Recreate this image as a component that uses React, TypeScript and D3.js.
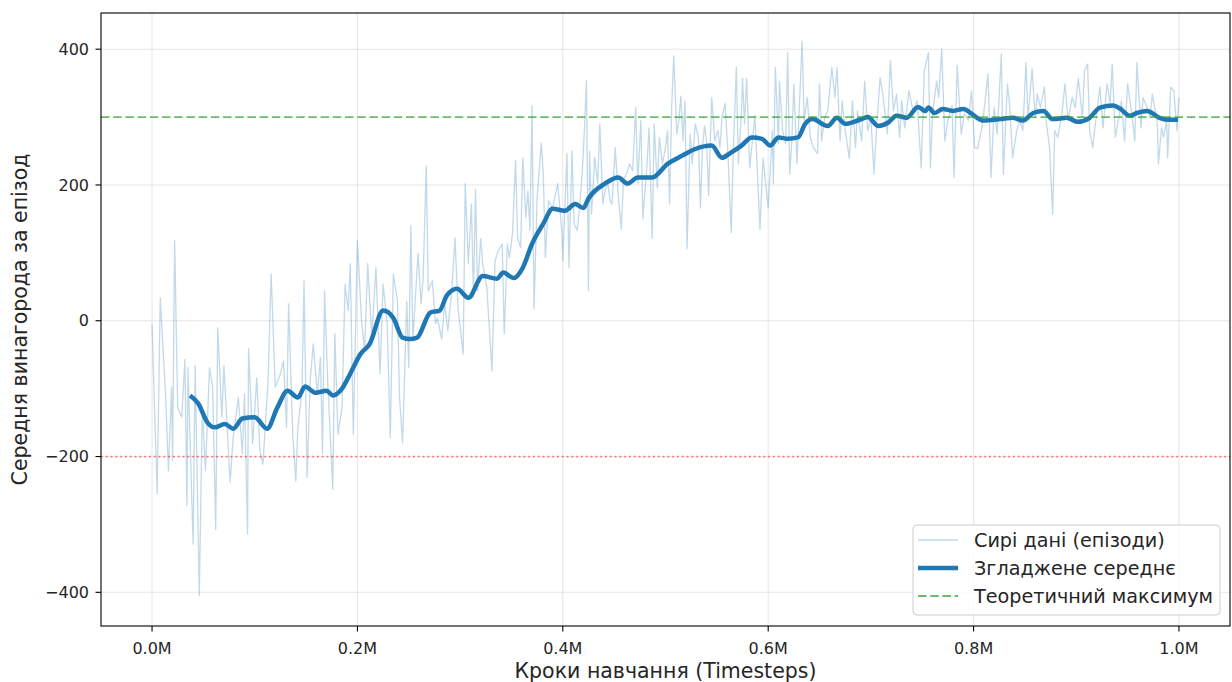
import * as d3 from 'd3';

// raw episodes: timestep (thousands) and reward
const rawSteps = [
  0, 5, 8, 13, 16, 19, 20, 22, 25, 29, 32, 34, 35, 40, 42, 46, 49, 52, 56, 59,
  62, 64, 68, 70, 76, 79, 84, 88, 90, 93, 94, 98, 102, 105, 108, 113, 116, 120, 125, 128,
  131, 133, 137, 140, 142, 146, 148, 151, 154, 157, 161, 164, 166, 168, 171, 176, 178, 181, 185, 188,
  191, 193, 196, 200, 204, 207, 210, 214, 218, 222, 225, 229, 232, 235, 239, 241, 244, 248, 250, 252,
  254, 259, 262, 264, 267, 269, 273, 276, 278, 282, 285, 288, 292, 295, 298, 303, 305, 308, 311, 313,
  315, 317, 320, 322, 326, 331, 334, 337, 341, 343, 346, 348, 351, 354, 356, 359, 361, 364, 366, 368,
  370, 372, 375, 379, 381, 383, 386, 390, 395, 399, 400, 404, 406, 409, 411, 414, 416, 419, 421, 423,
  425, 426, 428, 431, 434, 436, 439, 441, 444, 446, 448, 451, 454, 457, 459, 463, 465, 468, 471, 473,
  476, 478, 482, 484, 487, 489, 492, 494, 497, 500, 502, 504, 506, 508, 511, 513, 515, 517, 519, 521,
  524, 526, 529, 532, 534, 536, 538, 540, 542, 545, 548, 551, 553, 555, 558, 561, 564, 566, 569, 571,
  574, 575, 577, 579, 582, 587, 592, 595, 600, 604, 605, 607, 610, 611, 614, 617, 619, 621, 623, 625,
  628, 631, 633, 635, 638, 641, 644, 648, 650, 652, 655, 658, 662, 665, 667, 670, 672, 675, 679, 682,
  685, 687, 691, 694, 697, 700, 703, 706, 709, 712, 716, 719, 722, 725, 728, 730, 733, 737, 741, 745,
  749, 752, 756, 758, 760, 764, 766, 769, 772, 775, 779, 781, 784, 788, 791, 795, 798, 801, 804, 808,
  811, 814, 817, 820, 823, 827, 829, 833, 835, 838, 842, 845, 848, 851, 853, 857, 860, 862, 865, 869,
  871, 874, 877, 879, 882, 886, 889, 892, 896, 899, 902, 906, 908, 911, 913, 916, 919, 923, 926, 930,
  933, 935, 938, 941, 944, 947, 950, 954, 957, 959, 963, 965, 969, 972, 974, 979, 980, 983, 985, 988,
  989, 992, 995, 998, 1000,
];
const rawRewards = [
  -5, -255, 34, -103, -221, -98, -206, 118, -128, -142, -57, -272, -69, -329, -66, -405, -128, -221, -69, -98,
  -307, -10, -142, -66, -238, -172, -113, -196, -108, -314, -41, -181, -84, -191, -211, -88, 69, -98, -78, -59,
  -157, 25, -167, -236, -157, -103, 59, -231, -88, -34, -108, -54, -196, 44, -88, -248, -19, -167, -128, 54,
  15, 84, -167, 118, 0, -44, 84, -25, 78, -78, 54, -4, -172, 69, 29, -113, -180, 29, -69, 140,
  -29, 99, 25, 63, 228, 44, 59, -4, 4, -27, 25, -15, 47, 122, 19, -49, 202, 84, 172, 34,
  194, 44, 121, 84, 49, -74, 88, 103, 113, -19, 113, 93, 128, 236, 122, 108, 240, 152, 191, 133,
  317, 18, 181, 262, 216, 93, 177, 166, 202, 133, 88, 246, 78, 250, 143, 133, 162, 221, 280, 354,
  44, 250, 157, 241, 202, 290, 172, 191, 202, 177, 172, 255, 184, 135, 206, 221, 231, 221, 314, 202,
  295, 150, 231, 284, 121, 290, 196, 270, 231, 255, 280, 172, 314, 390, 275, 295, 331, 265, 324, 106,
  275, 231, 290, 270, 166, 255, 287, 265, 184, 329, 265, 280, 255, 299, 320, 240, 130, 250, 373, 231,
  309, 357, 290, 357, 225, 302, 135, 240, 166, 280, 202, 373, 261, 353, 280, 261, 395, 216, 265, 349,
  231, 339, 412, 295, 329, 270, 255, 246, 349, 265, 299, 309, 373, 329, 373, 265, 324, 280, 239, 324,
  255, 309, 265, 353, 280, 299, 216, 295, 358, 329, 275, 383, 309, 334, 270, 324, 284, 339, 309, 324,
  225, 368, 395, 225, 305, 353, 329, 400, 265, 295, 317, 211, 376, 275, 305, 295, 339, 255, 254, 284,
  320, 364, 211, 314, 275, 393, 216, 349, 320, 240, 280, 295, 280, 380, 299, 371, 299, 334, 314, 344,
  290, 255, 157, 280, 270, 305, 349, 295, 329, 314, 357, 299, 368, 378, 280, 255, 295, 344, 284, 349,
  320, 378, 270, 295, 324, 265, 349, 305, 265, 380, 284, 329, 314, 299, 334, 290, 231, 284, 270, 295,
  240, 344, 339, 280, 329,
];

// rolling mean
const smoothSteps = [
  37, 45, 54, 61, 71, 79, 88, 100, 112, 122, 132, 142, 149, 159, 170, 176, 185, 193, 203, 212,
  225, 235, 244, 251, 258, 271, 280, 287, 297, 308, 322, 336, 342, 352, 361, 370, 381, 390, 402, 412,
  420, 425, 441, 454, 463, 473, 487, 502, 516, 529, 545, 555, 563, 574, 584, 594, 602, 610, 619, 629,
  636, 643, 658, 667, 675, 691, 697, 707, 717, 725, 735, 746, 753, 756, 762, 770, 780, 790, 798, 809,
  826, 838, 848, 858, 868, 877, 891, 901, 913, 923, 936, 943, 952, 959, 969, 981, 991, 999,
];
const smoothRewards = [
  -110, -122, -150, -157, -152, -159, -144, -142, -159, -128, -103, -113, -97, -106, -103, -110, -100, -78, -49, -34,
  15, 4, -25, -27, -25, 12, 15, 37, 47, 34, 66, 62, 71, 63, 78, 113, 143, 165, 162, 172,
  166, 180, 202, 211, 202, 211, 211, 231, 243, 253, 258, 240, 247, 258, 270, 268, 258, 270, 268, 270,
  290, 297, 287, 299, 290, 297, 300, 287, 292, 302, 299, 315, 309, 314, 306, 312, 309, 312, 305, 295,
  297, 299, 295, 306, 309, 297, 299, 293, 299, 314, 317, 312, 302, 306, 309, 299, 296, 296,
];

const xTicks = [0, 200, 400, 600, 800, 1000];
const yTicks = [-400, -200, 0, 200, 400];
const maxReward = 300;
const minReward = -200;

const legendItems = ['Сирі дані (епізоди)', 'Згладжене середнє', 'Теоретичний максимум'];

const W = 1232;
const H = 682;
const FONT = '"DejaVu Sans", sans-serif';
const BLUE = '#1f77b4';

export default function App() {
  const left = 101, right = 1230, top = 13, bottom = 626;

  const x = d3.scaleLinear().domain([-49.7, 1049.7]).range([left, right]);
  const y = d3.scaleLinear().domain([-449.6, 453.3]).range([bottom, top]);

  const rawLine = d3.line<number>()
    .x((_, i) => x(rawSteps[i]))
    .y((d) => y(d));
  const smoothLine = d3.line<number>()
    .x((_, i) => x(smoothSteps[i]))
    .y((d) => y(d))
    .curve(d3.curveMonotoneX);

  const fmtX = (v: number) => `${(v / 1000).toFixed(1)}M`;
  const fmtY = (v: number) => (v < 0 ? `\u2212${Math.abs(v)}` : `${v}`);

  const lgX = 913, lgY = 525, lgW = 307, lgH = 90;

  return (
    <svg width={W} height={H} style={{ position: 'absolute', left: 0, top: 0, background: '#fff' }} fontFamily={FONT}>
      <rect x={0} y={0} width={W} height={H} fill="#fff" />

      {/* grid */}
      {xTicks.map((t) => (
        <line key={`gx${t}`} x1={x(t)} x2={x(t)} y1={top} y2={bottom} stroke="#b0b0b0" strokeOpacity={0.3} strokeWidth={1} />
      ))}
      {yTicks.map((t) => (
        <line key={`gy${t}`} x1={left} x2={right} y1={y(t)} y2={y(t)} stroke="#b0b0b0" strokeOpacity={0.3} strokeWidth={1} />
      ))}

      {/* data */}
      <path d={rawLine(rawRewards) ?? ''} fill="none" stroke={BLUE} strokeOpacity={0.28} strokeWidth={1.3} strokeLinejoin="round" />
      <path d={smoothLine(smoothRewards) ?? ''} fill="none" stroke={BLUE} strokeWidth={4.5} strokeLinejoin="round" strokeLinecap="butt" />

      <line x1={left} x2={right} y1={y(maxReward)} y2={y(maxReward)} stroke="#2ca02c" strokeOpacity={0.7} strokeWidth={1.8} strokeDasharray="8.5,3.7" />
      <line x1={left} x2={right} y1={y(minReward)} y2={y(minReward)} stroke="#ff0000" strokeOpacity={0.5} strokeWidth={1.8} strokeDasharray="1.8,3" />

      {/* frame */}
      <rect x={left} y={top} width={right - left} height={bottom - top} fill="none" stroke="#000" strokeWidth={1.1} />

      {/* x axis */}
      {xTicks.map((t) => (
        <g key={`tx${t}`}>
          <line x1={x(t)} x2={x(t)} y1={bottom} y2={bottom + 5.5} stroke="#000" strokeWidth={1.1} />
          <text x={x(t)} y={654} textAnchor="middle" fontSize={16} fill="#262626">{fmtX(t)}</text>
        </g>
      ))}
      {/* y axis */}
      {yTicks.map((t) => (
        <g key={`ty${t}`}>
          <line x1={left - 5.5} x2={left} y1={y(t)} y2={y(t)} stroke="#000" strokeWidth={1.1} />
          <text x={89} y={y(t)} dy="0.35em" textAnchor="end" fontSize={16} fill="#262626">{fmtY(t)}</text>
        </g>
      ))}

      <text x={(left + right) / 2} y={678} textAnchor="middle" fontSize={20.5} fill="#262626">Кроки навчання (Timesteps)</text>
      <text transform={`translate(27,${(top + bottom) / 2}) rotate(-90)`} textAnchor="middle" fontSize={20.5} fill="#262626">Середня винагорода за епізод</text>

      {/* legend */}
      <rect x={lgX} y={lgY} width={lgW} height={lgH} rx={4} fill="#fff" fillOpacity={0.8} stroke="#cccccc" strokeWidth={1} />
      {legendItems.map((label, i) => {
        const cy = lgY + 15 + i * 28;
        return (
          <g key={label}>
            {i === 0 && <line x1={918} x2={958} y1={cy} y2={cy} stroke={BLUE} strokeOpacity={0.28} strokeWidth={1.3} />}
            {i === 1 && <line x1={918} x2={958} y1={cy} y2={cy} stroke={BLUE} strokeWidth={4.5} />}
            {i === 2 && <line x1={918} x2={958} y1={cy} y2={cy} stroke="#2ca02c" strokeOpacity={0.7} strokeWidth={1.8} strokeDasharray="8.5,3.7" />}
            <text x={974} y={cy} dy="0.35em" fontSize={19.2} fill="#262626">{label}</text>
          </g>
        );
      })}
    </svg>
  );
}
